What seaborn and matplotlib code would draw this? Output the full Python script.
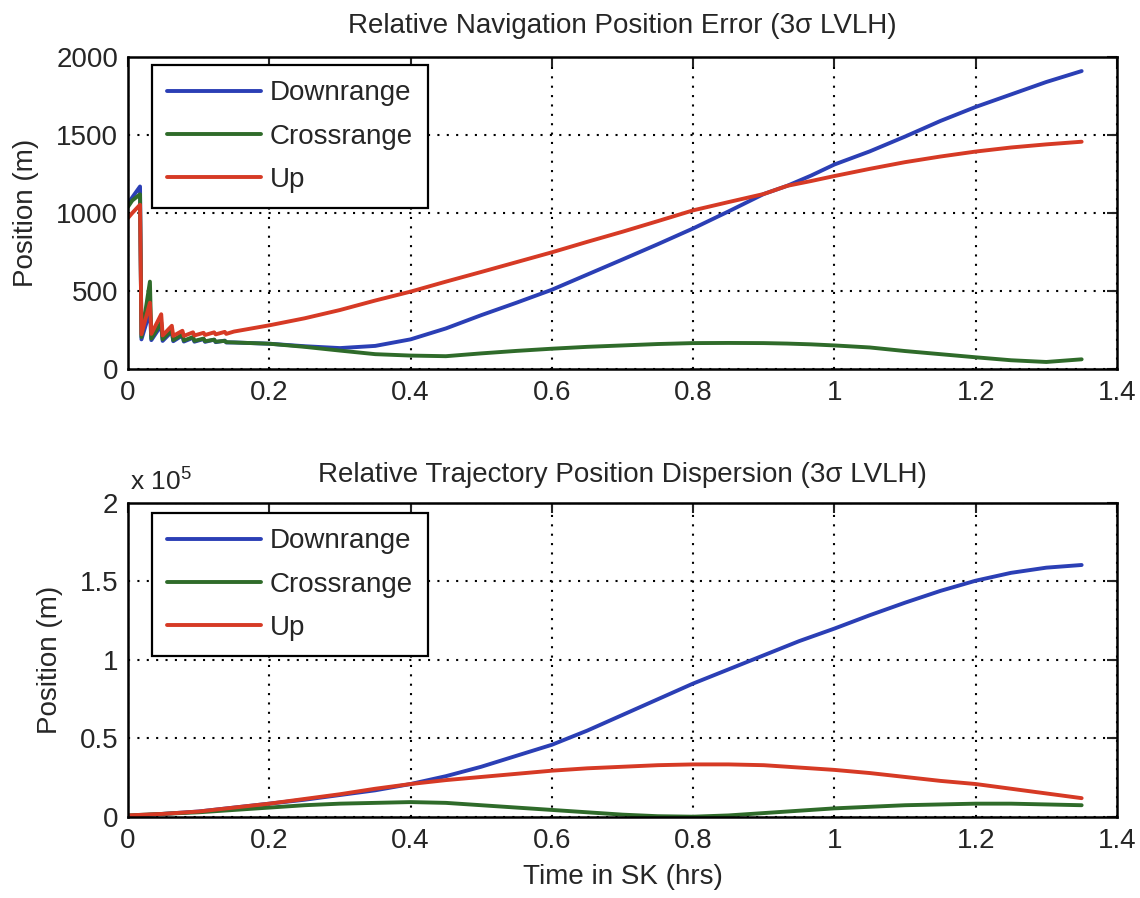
import matplotlib
matplotlib.use('Agg')
import matplotlib.pyplot as plt
import seaborn as sns
from matplotlib.ticker import MultipleLocator, FuncFormatter

# --- navigation error (top panel), metres ---
t_nav = [0, 0.006, 0.017, 0.019, 0.031, 0.033, 0.047, 0.049, 0.062, 0.064,
         0.077, 0.079, 0.092, 0.094, 0.107, 0.109, 0.122, 0.124, 0.137, 0.139,
         0.15, 0.2, 0.25, 0.3, 0.35, 0.4, 0.45, 0.5, 0.55, 0.6,
         0.65, 0.7, 0.75, 0.8, 0.85, 0.9, 0.933, 0.967, 1.0, 1.05,
         1.1, 1.15, 1.2, 1.25, 1.3, 1.35]
nav_down = [1060, 1100, 1170, 190, 370, 185, 280, 180, 240, 178,
            215, 176, 200, 175, 192, 174, 188, 172, 182, 170,
            170, 162, 146, 134, 148, 190, 260, 345, 425, 508,
            605, 702, 800, 901, 1010, 1122, 1174, 1240, 1311, 1395,
            1490, 1590, 1680, 1760, 1840, 1910]
nav_cross = [1040, 1080, 1120, 205, 560, 195, 300, 190, 250, 185,
             222, 182, 205, 180, 195, 178, 188, 175, 180, 172,
             170, 162, 142, 118, 95, 86, 82, 100, 116, 130,
             142, 151, 160, 166, 167, 166, 163, 158, 151, 138,
             115, 95, 75, 56, 45, 62]
nav_up = [968, 1000, 1053, 223, 425, 225, 351, 215, 277, 212,
          245, 212, 235, 215, 232, 218, 235, 222, 238, 225,
          240, 280, 325, 378, 439, 496, 560, 622, 685, 748,
          815, 880, 948, 1017, 1070, 1122, 1174, 1205, 1237, 1283,
          1326, 1362, 1394, 1420, 1440, 1457]

# --- trajectory dispersion (bottom panel), metres ---
t_disp = [0, 0.05, 0.1, 0.15, 0.2, 0.25, 0.3, 0.35, 0.4, 0.45,
          0.5, 0.55, 0.6, 0.65, 0.7, 0.75, 0.8, 0.85, 0.9, 0.95,
          1.0, 1.05, 1.1, 1.15, 1.2, 1.25, 1.3, 1.35]
disp_down = [500, 2000, 3500, 6000, 8500, 11000, 14000, 17000, 21000, 26000,
             32000, 39000, 46000, 55000, 65000, 75000, 85000, 94000, 103000, 112000,
             120000, 128500, 136500, 144000, 150500, 155500, 158800, 160500]
disp_cross = [1000, 2000, 3000, 4500, 6000, 7500, 8500, 9000, 9500, 9000,
              7500, 6000, 4500, 3000, 1500, 500, 200, 1000, 2500, 4000,
              5500, 6500, 7500, 8000, 8500, 8500, 8000, 7500]
disp_up = [1000, 2000, 3500, 6000, 8500, 11500, 14500, 18000, 21000, 23500,
           25500, 27500, 29500, 31000, 32000, 33000, 33500, 33500, 33000, 31500,
           30000, 28000, 25500, 23000, 21000, 18000, 15000, 12000]

labels = ['Downrange', 'Crossrange', 'Up']
colors = ['#2b3fb5', '#2f6b2a', '#d63a25']

sns.set_style('white')
plt.rcParams['font.family'] = ['Liberation Sans', 'DejaVu Sans']
plt.rcParams['mathtext.fontset'] = 'custom'
plt.rcParams['mathtext.rm'] = 'Liberation Sans'

fig = plt.figure(figsize=(11.4, 8.98), dpi=100)
ax1 = fig.add_axes([0.1123, 0.5891, 0.8675, 0.3474])
ax2 = fig.add_axes([0.1123, 0.0902, 0.8675, 0.3497])

for ys, lab, col in zip([nav_down, nav_cross, nav_up], labels, colors):
    sns.lineplot(x=t_nav, y=ys, ax=ax1, color=col, lw=2.8, label=lab,
                 estimator=None, sort=False)
for ys, lab, col in zip([disp_down, disp_cross, disp_up], labels, colors):
    sns.lineplot(x=t_disp, y=ys, ax=ax2, color=col, lw=2.8, label=lab,
                 estimator=None, sort=False)


def matlab_axes(ax, ymax, ystep, leg_top):
    ax.set_xlim(0, 1.4)
    ax.set_ylim(0, ymax)
    ax.xaxis.set_major_locator(MultipleLocator(0.2))
    ax.yaxis.set_major_locator(MultipleLocator(ystep))
    ax.xaxis.set_major_formatter(FuncFormatter(lambda v, p: f'{v:g}'))
    ax.grid(True, which='major', color='black', linestyle=(0, (1, 3.5)), lw=1.5)
    ax.tick_params(which='major', direction='in', length=7, width=1.5,
                   top=True, right=True, labelsize=20)
    ax.tick_params(axis='x', pad=8)
    ax.tick_params(axis='y', pad=7)
    for s in ax.spines.values():
        s.set_color('black')
        s.set_linewidth(1.8)
    ax.set_ylabel('Position (m)', fontsize=20)
    ax.legend(loc='upper left', bbox_to_anchor=(0.024, leg_top), borderaxespad=0,
              fontsize=20, handlelength=3.4, handletextpad=0.3,
              labelspacing=0.62, borderpad=0.55, fancybox=False,
              edgecolor='black', framealpha=1)
    ax.get_legend().get_frame().set_linewidth(1.6)


matlab_axes(ax1, 2000, 500, 0.974)
matlab_axes(ax2, 200000, 50000, 0.968)
ax2.yaxis.set_major_formatter(FuncFormatter(lambda v, p: f'{v / 1e5:g}'))
ax2.text(0.002, 1.041, r'x 10$^5$', transform=ax2.transAxes, fontsize=19,
         ha='left', va='baseline')

ax1.yaxis.set_label_coords(-0.09, 0.5)
ax2.yaxis.set_label_coords(-0.066, 0.5)

ax1.set_title('Relative Navigation Position Error (3σ LVLH)', fontsize=20, pad=17)
ax2.set_title('Relative Trajectory Position Dispersion (3σ LVLH)', fontsize=20, pad=15)
ax2.set_xlabel('Time in SK (hrs)', fontsize=20)
ax2.xaxis.set_label_coords(0.5, -0.15)

fig.savefig('out.png', dpi=100)
